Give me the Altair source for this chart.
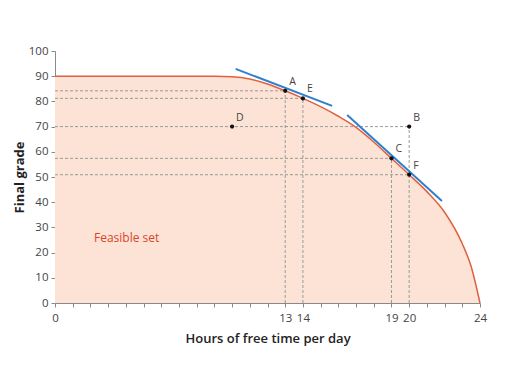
import altair as alt
import pandas as pd

# Feasible frontier: hours of free time -> final grade
free_time = [0, 9, 10, 11, 12, 13, 14, 15, 16, 17, 18, 19, 20, 21, 22, 23, 23.5, 24]
grade = [90, 90, 89.8, 88.9, 86.9, 84.2, 81.2, 77.9, 74.1, 69.7, 63.9, 57.4, 50.9, 44.2, 36, 23.5, 14.5, 0]

# Labelled points
pt_names = ["A", "E", "B", "C", "D", "F"]
pt_x = [13, 14, 20, 19, 10, 20]
pt_y = [84.2, 81.2, 70, 57.4, 70, 50.9]

# Tangent lines (end points)
tan_id = ["t1", "t1", "t2", "t2"]
tan_x = [10.2, 15.65, 16.5, 21.85]
tan_y = [92.9, 78.2, 74.6, 40.5]

# Dashed guide lines
h_y = [84.2, 81.2, 70, 57.4, 50.9]
h_x2 = [13, 14, 20, 19, 20]
v_x = [13, 14, 19, 20]
v_y2 = [84.2, 81.2, 57.4, 70]

x_labels = [0, 13, 14, 19, 20, 24]

curve = pd.DataFrame({"x": free_time, "y": grade})
pts = pd.DataFrame({"name": pt_names, "x": pt_x, "y": pt_y})
tan = pd.DataFrame({"id": tan_id, "x": tan_x, "y": tan_y})
hl = pd.DataFrame({"x": [0] * len(h_y), "x2": h_x2, "y": h_y, "y2": h_y})
vl = pd.DataFrame({"x": v_x, "x2": v_x, "y": [0] * len(v_x), "y2": v_y2})
guides = pd.concat([hl, vl], ignore_index=True)

FONT = "Open Sans"

xs = alt.Scale(domain=[0, 24], nice=False)
ys = alt.Scale(domain=[0, 100], nice=False)

label_expr = "indexof([" + ",".join(str(v) for v in x_labels) + "], datum.value) >= 0 ? datum.label : ''"

x_axis = alt.Axis(values=list(range(0, 25)), labelExpr=label_expr, grid=False,
                  labelOverlap=False,
                  domainColor="#8a8a8a", tickColor="#8a8a8a", tickSize=4,
                  labelColor="#444", labelFont=FONT, labelFontSize=11.5,
                  titleFont=FONT, titleFontSize=13, titleFontWeight=600,
                  titleColor="#222", labelPadding=5, titlePadding=9,
                  labelFlush=False)
y_axis = alt.Axis(values=list(range(0, 101, 10)), grid=False,
                  labelOverlap=False,
                  domainColor="#8a8a8a", tickColor="#8a8a8a", tickSize=4,
                  labelColor="#444", labelFont=FONT, labelFontSize=11.5,
                  titleFont=FONT, titleFontSize=13, titleFontWeight="bold",
                  titleColor="#222", labelPadding=3, titlePadding=2)


def X():
    return alt.X("x:Q", scale=xs, title="Hours of free time per day", axis=x_axis)


def Y():
    return alt.Y("y:Q", scale=ys, title="Final grade", axis=y_axis)


area = alt.Chart(curve).mark_area(color="#fce3d5", interpolate="monotone").encode(x=X(), y=Y())
line = alt.Chart(curve).mark_line(color="#e0603f", strokeWidth=1.5, interpolate="monotone").encode(x=X(), y=Y())

rules = alt.Chart(guides).mark_rule(color="#9a9a9a", strokeDash=[3, 2], strokeWidth=1).encode(
    x=X(), x2="x2:Q", y=Y(), y2="y2:Q")

tangents = alt.Chart(tan).mark_line(color="#2f80cc", strokeWidth=2).encode(
    x=X(), y=Y(), detail="id:N")

points = alt.Chart(pts).mark_circle(color="#111", size=18, opacity=1).encode(x=X(), y=Y())
labels = alt.Chart(pts).mark_text(align="left", dx=4, dy=-9, font=FONT, fontSize=10.5, color="#444").encode(
    x=X(), y=Y(), text="name:N")

feas = alt.Chart(pd.DataFrame({"x": [2.2], "y": [25.8], "t": ["Feasible set"]})).mark_text(
    align="left", font=FONT, fontSize=12, color="#d9452b").encode(x=X(), y=Y(), text="t:N")

chart = alt.layer(area, line, rules, tangents, points, labels, feas).properties(
    width=425, height=252,
    autosize=alt.AutoSizeParams(type="none"),
    padding={"left": 47, "top": 43, "right": 25, "bottom": 57},
).configure_view(stroke=None)

chart.save("out.html", embed_options={"renderer": "svg", "actions": False})
